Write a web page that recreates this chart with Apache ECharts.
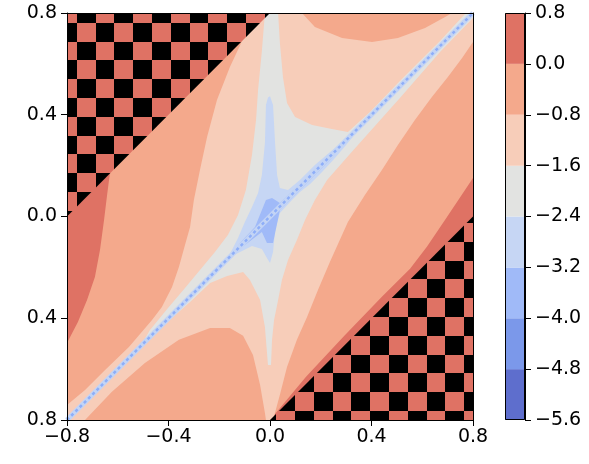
<!DOCTYPE html>
<html><head><meta charset="utf-8">
<script src="https://cdn.jsdelivr.net/npm/echarts@6/dist/echarts.min.js"></script>
<style>html,body{margin:0;padding:0;background:#fff}#c{width:589px;height:464px}</style>
</head><body><div id="c"></div>
<script>
// ---------- data ----------
const xTickValues = [-0.8, -0.4, 0, 0.4, 0.8];
const xTickLabels = ['−0.8', '−0.4', '0.0', '0.4', '0.8'];
const yTickValues = [-0.8, -0.4, 0, 0.4, 0.8];
const yTickLabels = ['0.8', '0.4', '0.0', '0.4', '0.8'];
const levels = [-5.6, -4.8, -4.0, -3.2, -2.4, -1.6, -0.8, 0.0, 0.8];
const levelLabels = ['−5.6', '−4.8', '−4.0', '−3.2', '−2.4', '−1.6', '−0.8', '0.0', '0.8'];

// contour regions (data coordinates), each filled with the band above its level
const fullDomain = [[-0.8,-0.8],[0.8,-0.8],[0.8,0.8],[-0.8,0.8]];
const aboveZeroLeft = [[-0.8,0.1],[-0.62,0.2],[-0.631,0.169],[-0.642,0.085],[-0.654,-0.014],[-0.670,-0.132],
  [-0.690,-0.238],[-0.721,-0.328],[-0.757,-0.415],[-0.8,-0.497]];
const aboveZeroRight = [[0,-0.8],[0.142,-0.630],[0.292,-0.470],[0.441,-0.315],[0.552,-0.205],[0.619,-0.118],
  [0.6975,-0.002],[0.8,0.151],[0.8,-0.8]];
const belowM08 = [[-0.8,-0.8],[-0.729,-0.8],[-0.623,-0.689],[-0.493,-0.576],[-0.359,-0.485],[-0.236,-0.438],
  [-0.158,-0.438],[-0.106,-0.469],[-0.067,-0.544],[-0.039,-0.662],[-0.020,-0.772],[-0.016,-0.8],[0.012,-0.8],
  [0.039,-0.701],[0.067,-0.592],[0.106,-0.485],[0.146,-0.395],[0.189,-0.289],[0.236,-0.179],[0.307,-0.022],
  [0.374,0.085],[0.441,0.183],[0.504,0.281],[0.571,0.379],[0.638,0.470],[0.701,0.548],[0.757,0.623],[0.8,0.686],
  [0.8,0.8],[0.717,0.8],[0.690,0.784],[0.611,0.741],[0.504,0.702],[0.402,0.686],[0.284,0.702],[0.177,0.745],
  [0.126,0.8],[-0.05,0.8],[-0.11,0.69],[-0.158,0.588],[-0.209,0.458],[-0.248,0.313],[-0.276,0.183],[-0.300,0.065],
  [-0.315,-0.041],[-0.335,-0.112],[-0.359,-0.199],[-0.386,-0.277],[-0.426,-0.356],[-0.465,-0.407],[-0.556,-0.513],
  [-0.650,-0.603],[-0.729,-0.682],[-0.8,-0.741]];
const belowM16 = [[-0.02,0.8],[-0.032,0.651],[-0.047,0.497],[-0.055,0.379],[-0.071,0.242],[-0.095,0.104],
  [-0.126,0.006],[-0.166,-0.073],[-0.217,-0.140],[-0.276,-0.210],[-0.335,-0.281],[-0.402,-0.360],[-0.473,-0.446],
  [-0.512,-0.513],[-0.394,-0.406],[-0.315,-0.336],[-0.236,-0.261],[-0.169,-0.234],[-0.106,-0.218],[-0.079,-0.250],
  [-0.039,-0.328],[-0.020,-0.434],[-0.008,-0.584],[0.004,-0.584],[0.008,-0.485],[0.016,-0.407],[0.032,-0.328],
  [0.047,-0.250],[0.071,-0.171],[0.106,-0.092],[0.138,-0.014],[0.177,0.065],[0.225,0.143],[0.315,0.246],
  [0.512,0.466],[0.670,0.647],[0.8,0.780],[0.8,0.8],[0.772,0.8],[0.670,0.690],[0.512,0.533],[0.394,0.411],
  [0.307,0.332],[0.244,0.344],[0.166,0.360],[0.099,0.391],[0.067,0.446],[0.051,0.548],[0.039,0.682],[0.032,0.8]];
const belowM24 = [[-0.008,0.468],[-0.016,0.438],[-0.020,0.289],[-0.032,0.163],[-0.047,0.092],[-0.071,0.037],
  [-0.099,-0.022],[-0.126,-0.085],[-0.166,-0.163],[-0.118,-0.140],[-0.071,-0.116],[-0.032,-0.128],[-0.012,-0.163],
  [0,-0.183],[0.012,-0.140],[0.020,-0.053],[0.039,0.014],[0.079,0.057],[0.118,0.096],[0.158,0.128],[0.205,0.175],
  [0.256,0.230],[0.300,0.281],[0.343,0.336],[0.296,0.301],[0.236,0.253],[0.177,0.202],[0.118,0.143],[0.071,0.104],
  [0.039,0.112],[0.028,0.163],[0.020,0.289],[0.012,0.438],[0,0.473]];
const belowM32 = [[-0.146,-0.143],[-0.118,-0.104],[-0.059,-0.041],[-0.016,0.065],[0.008,0.073],[0.039,0.053],
  [0.118,0.128],[0.236,0.244],[0.335,0.336],[0.236,0.222],[0.118,0.104],[0.039,0.026],[0.012,-0.104],
  [-0.012,-0.104],[-0.032,-0.061],[-0.099,-0.112]];
const diagonal = [[-0.8,-0.8],[0.8,0.8]];
const maskedUpper = [[-0.8,0],[-0.8,0.8],[0,0.8]];
const maskedLower = [[0,-0.8],[0.8,-0.8],[0.8,0]];

// ---------- styles ----------
const bandColors = ['#5e6ecd','#7b98ea','#a0baf8','#c6d6f4','#e2e3e1','#f7cdb9','#f4a98c','#df7264'];
const FONT = 'DejaVu Sans';
const FS = 19;

const layers = [
  {pts: fullDomain, band: 6},
  {pts: aboveZeroLeft, band: 7},
  {pts: aboveZeroRight, band: 7},
  {pts: belowM08, band: 5},
  {pts: belowM16, band: 4}
];
const coreLayers = [
  {pts: belowM24, band: 3},
  {pts: belowM32, band: 2}
];

// hatch texture (checkerboard) drawn in screen space
function makeHatch() {
  const cv = document.createElement('canvas');
  cv.width = 589; cv.height = 464;
  const ctx = cv.getContext('2d');
  const s = 18.8;
  function region(x0, y0, xa, ya, xb, yb) {
    const i0 = Math.floor((xa - x0) / s) - 1, i1 = Math.ceil((xb - x0) / s) + 1;
    const j0 = Math.floor((ya - y0) / s) - 1, j1 = Math.ceil((yb - y0) / s) + 1;
    for (let i = i0; i <= i1; i++) for (let j = j0; j <= j1; j++) {
      ctx.fillStyle = (((i + j) % 2) + 2) % 2 === 0 ? bandColors[7] : '#000000';
      const xa2 = x0 + i * s, ya2 = y0 + j * s;
      ctx.fillRect(Math.round(xa2), Math.round(ya2), Math.round(xa2 + s) - Math.round(xa2), Math.round(ya2 + s) - Math.round(ya2));
    }
  }
  ctx.save(); ctx.beginPath(); ctx.rect(0, 0, 280, 232); ctx.clip();
  region(76.7, 22.7, 60, 10, 280, 232); ctx.restore();
  ctx.save(); ctx.beginPath(); ctx.rect(260, 200, 329, 264); ctx.clip();
  region(295, 241.7, 260, 200, 589, 464); ctx.restore();
  return cv;
}
const hatch = makeHatch();

function polyRender(list, fillFn) {
  return function (params, api) {
    const L = list[api.value(0)];
    const pts = L.pts.map(p => api.coord(p));
    return {type: 'polygon', shape: {points: pts}, style: {fill: fillFn(L), stroke: null}};
  };
}

const axisLabelBase = {color: '#000', fontFamily: FONT, fontSize: FS};
function labelFrom(vals, labels) {
  return v => { const k = vals.findIndex(t => Math.abs(t - v) < 1e-6); return k < 0 ? '' : labels[k]; };
}

const chart = echarts.init(document.getElementById('c'), null, {renderer: 'canvas'});
chart.setOption({
  animation: false,
  backgroundColor: '#fff',
  grid: [
    {left: 67, top: 13, width: 406, height: 407},
    {left: 505, top: 13, width: 20, height: 407}
  ],
  xAxis: [
    {type: 'value', gridIndex: 0, min: -0.8, max: 0.8, interval: 0.4, position: 'bottom', z: 10,
      axisLine: {show: true, onZero: false, lineStyle: {color: '#000', width: 1}},
      axisTick: {show: true, length: 6, lineStyle: {color: '#000', width: 1}},
      axisLabel: Object.assign({margin: 8, formatter: labelFrom(xTickValues, xTickLabels)}, axisLabelBase),
      splitLine: {show: false}},
    {type: 'value', gridIndex: 0, min: -0.8, max: 0.8, position: 'top', z: 10,
      axisLine: {show: true, onZero: false, lineStyle: {color: '#000', width: 1}},
      axisTick: {show: false}, axisLabel: {show: false}, splitLine: {show: false}},
    {type: 'value', gridIndex: 1, min: 0, max: 1, show: false}
  ],
  yAxis: [
    {type: 'value', gridIndex: 0, min: -0.8, max: 0.8, interval: 0.4, position: 'left', z: 10,
      axisLine: {show: true, onZero: false, lineStyle: {color: '#000', width: 1}},
      axisTick: {show: true, length: 6, lineStyle: {color: '#000', width: 1}},
      axisLabel: Object.assign({margin: 10, formatter: labelFrom(yTickValues, yTickLabels)}, axisLabelBase),
      splitLine: {show: false}},
    {type: 'value', gridIndex: 0, min: -0.8, max: 0.8, position: 'right', z: 10,
      axisLine: {show: true, onZero: false, lineStyle: {color: '#000', width: 1}},
      axisTick: {show: false}, axisLabel: {show: false}, splitLine: {show: false}},
    {type: 'value', gridIndex: 1, min: -5.6, max: 0.8, interval: 0.8, position: 'right', z: 10,
      axisLine: {show: true, onZero: false, lineStyle: {color: '#000', width: 1}},
      axisTick: {show: true, length: 6, lineStyle: {color: '#000', width: 1}},
      axisLabel: Object.assign({margin: 10, showMinLabel: true, showMaxLabel: true,
        formatter: labelFrom(levels, levelLabels)}, axisLabelBase),
      splitLine: {show: false}}
  ],
  series: [
    {type: 'custom', xAxisIndex: 0, yAxisIndex: 0, silent: true, clip: true,
      data: layers.map((l, i) => [i]),
      renderItem: polyRender(layers, L => bandColors[L.band])},
    {type: 'line', xAxisIndex: 0, yAxisIndex: 0, silent: true, data: diagonal, symbol: 'none',
      lineStyle: {color: '#c3d4f5', width: 5}},
    {type: 'line', xAxisIndex: 0, yAxisIndex: 0, silent: true, data: diagonal, symbol: 'none',
      lineStyle: {color: '#8eaef8', width: 2.5, type: [3, 3]}},
    {type: 'custom', xAxisIndex: 0, yAxisIndex: 0, silent: true, clip: true,
      data: coreLayers.map((l, i) => [i]),
      renderItem: polyRender(coreLayers, L => bandColors[L.band])},
    {type: 'custom', xAxisIndex: 0, yAxisIndex: 0, silent: true, clip: true,
      data: [[0], [1]],
      renderItem: polyRender([{pts: maskedUpper}, {pts: maskedLower}],
        () => ({image: hatch, repeat: 'no-repeat'}))},
    {type: 'custom', xAxisIndex: 2, yAxisIndex: 2, silent: true, clip: true,
      data: bandColors.map((c, i) => [i]),
      renderItem: function (params, api) {
        const i = api.value(0);
        const p0 = api.coord([0, levels[i]]);
        const p1 = api.coord([1, levels[i + 1]]);
        return {type: 'rect', shape: {x: p0[0], y: p1[1], width: p1[0] - p0[0], height: p0[1] - p1[1]},
          style: {fill: bandColors[i]}};
      }},
    {type: 'custom', xAxisIndex: 2, yAxisIndex: 2, silent: true, clip: false, z: 12,
      data: [[0]],
      renderItem: function (params, api) {
        const p0 = api.coord([0, levels[0]]);
        const p1 = api.coord([1, levels[levels.length - 1]]);
        return {type: 'rect', shape: {x: Math.round(p0[0]) + 0.5, y: Math.round(p1[1]) + 0.5,
          width: Math.round(p1[0] - p0[0]) - 1, height: Math.round(p0[1] - p1[1]) - 1},
          style: {fill: null, stroke: '#000', lineWidth: 1}};
      }}
  ]
});
</script></body></html>
